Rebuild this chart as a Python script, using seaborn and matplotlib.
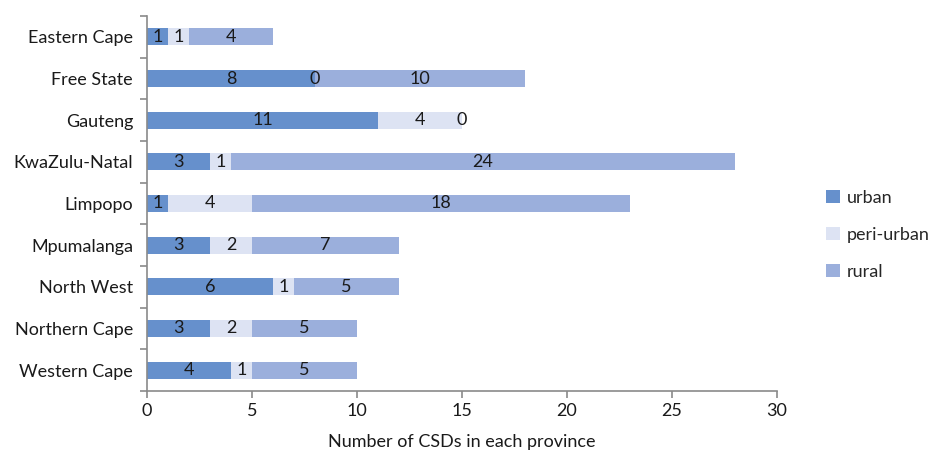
import matplotlib
matplotlib.use("Agg")
import matplotlib.pyplot as plt
import seaborn as sns
import pandas as pd
import numpy as np
from matplotlib.patches import Patch

provinces = ["Eastern Cape", "Free State", "Gauteng", "KwaZulu-Natal", "Limpopo",
             "Mpumalanga", "North West", "Northern Cape", "Western Cape"]
urban = [1, 8, 11, 3, 1, 3, 6, 3, 4]
peri_urban = [1, 0, 4, 1, 4, 2, 1, 2, 1]
rural = [4, 10, 0, 24, 18, 7, 5, 5, 5]
series_names = ["urban", "peri-urban", "rural"]
colors = ["#6690cc", "#dde3f3", "#9bafdc"]
xlabel = "Number of CSDs in each province"
xticks = [0, 5, 10, 15, 20, 25, 30]

sns.set_theme(style="white")
plt.rcParams['font.family'] = ['Lato', 'DejaVu Sans']

df = pd.DataFrame({"province": provinces, "urban": urban,
                   "peri-urban": peri_urban, "rural": rural})
df["c1"] = df["urban"]
df["c2"] = df["urban"] + df["peri-urban"]
df["c3"] = df["c2"] + df["rural"]

fig = plt.figure(figsize=(9.41, 4.5), dpi=100)
ax = fig.add_axes([147/941, 59/450, 630/941, 375/450])

for col, c in zip(["c3", "c2", "c1"], colors[::-1]):
    sns.barplot(data=df, y="province", x=col, orient="h", color=c, ax=ax,
                width=0.41, saturation=1, linewidth=0, order=provinces)

# segment labels
for i, p in enumerate(provinces):
    starts = [0, df["c1"][i], df["c2"][i]]
    vals = [urban[i], peri_urban[i], rural[i]]
    for s, v in zip(starts, vals):
        ax.text(s + v / 2, i, str(v), ha="center", va="center",
                fontsize=13, color="#1a1a1a")

ax.set_xlim(0, 30)
ax.set_ylim(len(provinces) - 0.5, -0.5)
ax.set_xticks(xticks)
ax.set_xlabel(xlabel, fontsize=13, labelpad=11, color="#1a1a1a")
ax.set_ylabel("")
sns.despine(ax=ax, top=True, right=True)
for s in ["left", "bottom"]:
    ax.spines[s].set_color("#8a8a8a")
    ax.spines[s].set_linewidth(1.2)

ax.tick_params(axis="x", which="major", direction="out", length=5, color="#8a8a8a",
               width=1.2, labelsize=13, labelcolor="#1a1a1a", bottom=True)
ax.tick_params(axis="y", which="major", length=0, labelsize=13, labelcolor="#1a1a1a", pad=10)
ax.set_yticks(np.arange(-0.5, len(provinces), 1.0), minor=True)
ax.tick_params(axis="y", which="minor", direction="out", length=5, color="#8a8a8a",
               width=1.2, left=True)

handles = [Patch(facecolor=c, edgecolor="none", label=n) for c, n in zip(colors, series_names)]
fig.legend(handles=handles, loc="center left", bbox_to_anchor=(0.861, 0.478),
           frameon=False, fontsize=13, handlelength=0.75, handleheight=0.75,
           handletextpad=0.4, labelspacing=1.15)

fig.savefig("out.png", dpi=100)
